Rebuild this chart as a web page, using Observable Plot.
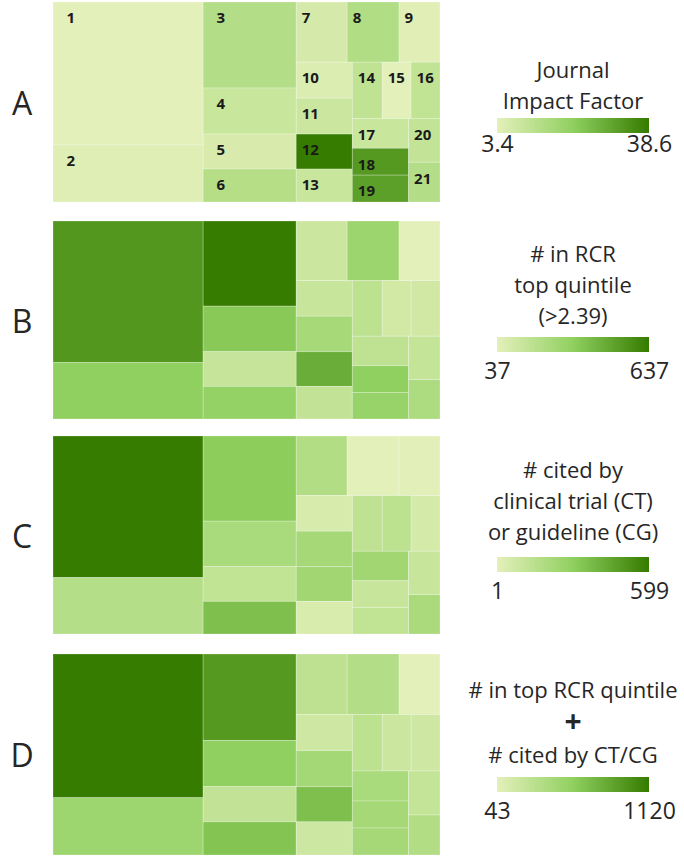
<!DOCTYPE html>
<html>
<head>
<meta charset="utf-8">
<script src="https://cdn.jsdelivr.net/npm/d3@7"></script>
<script src="https://cdn.jsdelivr.net/npm/@observablehq/plot@0.6"></script>
<style>
  body { margin: 0; background: #fff; }
  #chart { position: relative; width: 684px; height: 857px; font-family: "Open Sans", sans-serif; color: #262626; background: #fff; }
  .letter { position: absolute; left: 2px; width: 40px; display: flex; align-items: center; justify-content: center; font-size: 32px; }
  .ltitle { position: absolute; left: 443px; width: 260px; text-align: center; font-size: 22px; line-height: 31px; white-space: nowrap; }
  .ltitle .plus { font-size: 30px; font-weight: 700; }
  .tm, .lg { position: absolute; }
</style>
</head>
<body>
<div id="chart"></div>
<script>
// Journals (tile labels) and tile sizes (relative publication counts)
const journals = ["1","2","3","4","5","6","7","8","9","10","11","12","13","14","15","16","17","18","19","20","21"];
const tileSize = [21450, 8550, 7998, 4278, 3255, 3069, 3060, 3120, 2460, 2016, 2016, 1960, 1848, 1680, 1624, 1624, 1680, 1512, 1512, 1376, 1248];
// Nesting of the treemap (journal numbers)
const tileGroups = [[1, 2], [3, 4, 5, 6], [[7, 8, 9], [[10, 11, 12, 13], [[14, 15, 16], [[17, 18, 19], [20, 21]]]]]];

// Panel values, one per journal
const impactFactor   = [3.4, 4.4, 13.6, 9.0, 5.9, 13.3, 6.6, 14.0, 4.1, 5.2, 8.7, 38.6, 9.0, 11.1, 3.6, 10.8, 9.0, 32.5, 31.0, 10.4, 13.6];
const rcrTopQuintile = [540, 337, 637, 361, 145, 319, 127, 295, 37, 139, 253, 463, 157, 181, 103, 109, 169, 337, 307, 151, 235];
const citedByCtCg    = [599, 168, 312, 210, 127, 360, 180, 1, 6, 49, 222, 240, 43, 133, 145, 61, 240, 103, 127, 103, 204];
const rcrPlusCited   = [1120, 495, 937, 582, 258, 657, 291, 355, 43, 183, 452, 689, 194, 301, 205, 183, 420, 441, 441, 248, 366];

const panelLetters = ["A", "B", "C", "D"];
const legendTitles = [
  ["Journal", "Impact Factor"],
  ["# in RCR", "top quintile", "(>2.39)"],
  ["# cited by", "clinical trial (CT)", "or guideline (CG)"],
  ["# in top RCR quintile", "+", "# cited by CT/CG"]
];
const panelValues = [impactFactor, rcrTopQuintile, citedByCtCg, rcrPlusCited];
const rampColors = ["#e4f0ba", "#90d060", "#367c00"];

// layout (pixels)
const tmLeft = 53, tmWidth = 387;
const panelTop = [2, 221, 436, 654];
const panelHeight = [200, 198, 198, 201];
const titleTop = [54, 238, 454, 674];
const barTop = [118, 337, 557, 777];
const labelGap = [0, 8, 8, 8];

// treemap layout in unit square
function toNode(g) { return Array.isArray(g) ? {children: g.map(toNode)} : {id: g, size: tileSize[g - 1]}; }
const root = d3.hierarchy(toNode(tileGroups)).sum(d => d.size ?? 0);
d3.treemap().tile(d3.treemapSliceDice).size([1, 1]).round(false)(root);
const leaves = root.leaves().map(l => ({i: l.data.id - 1, x0: l.x0, x1: l.x1, y0: l.y0, y1: l.y1}));

const chart = document.getElementById("chart");

panelValues.forEach((vals, p) => {
  const tiles = leaves.map(l => ({...l, name: journals[l.i], value: vals[l.i]}));
  const [lo, hi] = d3.extent(vals);
  const colorOpts = {type: "linear", domain: [lo, (lo + hi) / 2, hi], range: rampColors};

  const marks = [
    Plot.rect(tiles, {x1: "x0", x2: "x1", y1: "y0", y2: "y1", fill: "value", stroke: "#ffffff", strokeWidth: 0.8, strokeOpacity: 0.3})
  ];
  if (p === 0) {
    const wide = d => (d.x1 - d.x0) * tmWidth > 80;
    const textOpts = {x: "x0", y: "y0", text: "name", textAnchor: "start", lineAnchor: "middle", dy: 16,
      fontWeight: 700, fontSize: 15, fill: "#1a1a1a"};
    marks.push(Plot.text(tiles.filter(wide), {...textOpts, dx: 13}));
    marks.push(Plot.text(tiles.filter(d => !wide(d)), {...textOpts, dx: 5}));
  }

  const tm = Plot.plot({
    width: tmWidth, height: panelHeight[p], margin: 0,
    x: {domain: [0, 1], axis: null},
    y: {domain: [0, 1], reverse: true, axis: null},
    color: colorOpts,
    style: {fontFamily: "Open Sans", background: "transparent", overflow: "visible"},
    marks
  });
  tm.classList.add("tm");
  tm.style.left = tmLeft + "px";
  tm.style.top = panelTop[p] + "px";
  chart.appendChild(tm);

  // panel letter
  const letter = document.createElement("div");
  letter.className = "letter";
  letter.style.top = panelTop[p] + "px";
  letter.style.height = panelHeight[p] + "px";
  letter.textContent = panelLetters[p];
  chart.appendChild(letter);

  // legend title
  const t = document.createElement("div");
  t.className = "ltitle";
  t.style.top = titleTop[p] + "px";
  legendTitles[p].forEach((line, k) => {
    if (k) t.appendChild(document.createElement("br"));
    if (line === "+") { const s = document.createElement("span"); s.className = "plus"; s.textContent = line; t.appendChild(s); }
    else t.appendChild(document.createTextNode(line));
  });
  chart.appendChild(t);

  // legend ramp
  const gap = labelGap[p];
  const lg = Plot.legend({
    color: colorOpts,
    legend: "ramp",
    width: 212, height: 15 + gap + 40,
    marginLeft: 30, marginRight: 30, marginTop: 0, marginBottom: gap + 40,
    ticks: [lo, hi], tickSize: gap, tickFormat: d => String(d),
    style: {fontFamily: "Open Sans", fontSize: "23px", color: "#262626", overflow: "visible", background: "transparent"}
  });
  lg.querySelectorAll(".tick line").forEach(el => el.remove());
  lg.classList.add("lg");
  lg.style.left = "467px";
  lg.style.top = barTop[p] + "px";
  chart.appendChild(lg);
});
</script>
</body>
</html>
